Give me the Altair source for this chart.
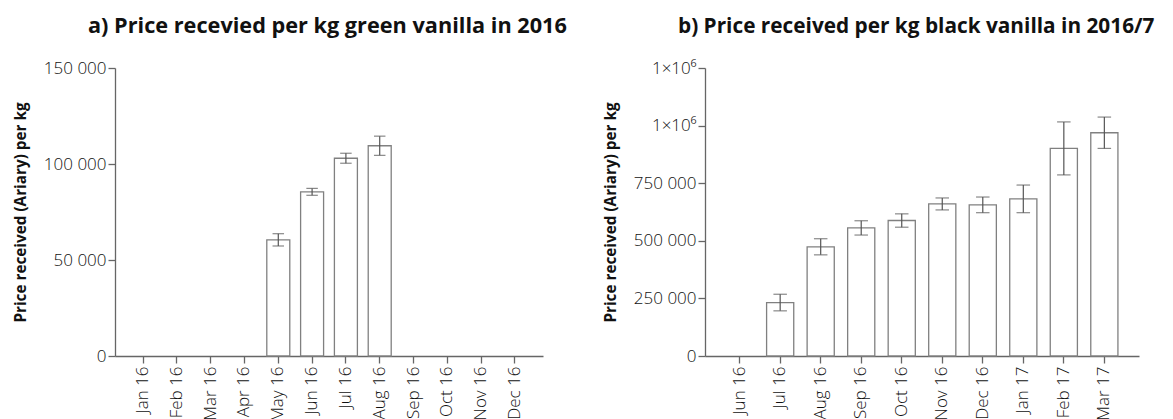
import altair as alt
import pandas as pd

months_a = ["Jan 16", "Feb 16", "Mar 16", "Apr 16", "May 16", "Jun 16",
            "Jul 16", "Aug 16", "Sep 16", "Oct 16", "Nov 16", "Dec 16"]
price_a = [None, None, None, None, 60500, 85500, 103000, 109500, None, None, None, None]
err_a = [None, None, None, None, 3200, 1800, 2600, 5000, None, None, None, None]

months_b = ["Jun 16", "Jul 16", "Aug 16", "Sep 16", "Oct 16", "Nov 16",
            "Dec 16", "Jan 17", "Feb 17", "Mar 17"]
price_b = [None, 232000, 474000, 556000, 588000, 660000, 656000, 682000, 901000, 969000]
err_b = [None, 36000, 35000, 31000, 29000, 26000, 34000, 60000, 115000, 68000]

ticks_a = [0, 50000, 100000, 150000]
ticks_b = [0, 250000, 500000, 750000, 1000000, 1250000]

title_a = "a) Price recevied per kg green vanilla in 2016"
title_b = "b) Price received per kg black vanilla in 2016/7"
ytitle = "Price received (Ariary) per kg"

label_expr_a = "datum.value == 0 ? '0' : format(datum.value / 1000, 'd') + ' 000'"
label_expr_b = ("datum.value >= 1000000 ? '1×10⁶' : (datum.value == 0 ? '0' : "
                "format(datum.value / 1000, 'd') + ' 000')")

FONT = "Open Sans"


def panel(months, price, err, ticks, label_expr, title, width, pin, pout, cap, tsize):
    rows = [dict(month=m, price=p, lo=p - e, hi=p + e)
            for m, p, e in zip(months, price, err) if p is not None]
    df = pd.DataFrame(rows)
    xscale = alt.Scale(domain=months, paddingInner=pin, paddingOuter=pout)
    yscale = alt.Scale(domain=[ticks[0], ticks[-1]], nice=False)
    x = alt.X("month:N", scale=xscale, sort=months,
              axis=alt.Axis(title=None, labelAngle=-90, labelAlign="right",
                            labelBaseline="middle", labelPadding=3))
    yaxis = alt.Axis(title=ytitle, values=ticks, labelExpr=label_expr,
                     labelPadding=2, titlePadding=15)
    base = alt.Chart(df)
    bars = base.mark_bar(fill="white", stroke="#808080", strokeWidth=1.3).encode(
        x=x, y=alt.Y("price:Q", scale=yscale, axis=yaxis))
    rule = base.mark_rule(color="#555555", strokeWidth=1.2).encode(
        x=x, y=alt.Y("lo:Q", scale=yscale, axis=yaxis), y2="hi:Q")
    cap_lo = base.mark_tick(color="#555555", size=cap, thickness=1.2,
                            orient="horizontal").encode(
        x=x, y=alt.Y("lo:Q", scale=yscale, axis=yaxis))
    cap_hi = base.mark_tick(color="#555555", size=cap, thickness=1.2,
                            orient="horizontal").encode(
        x=x, y=alt.Y("hi:Q", scale=yscale, axis=yaxis))
    return alt.layer(bars, rule, cap_lo, cap_hi).properties(
        width=width, height=288,
        title=alt.TitleParams(title, anchor="start", frame="group", dx=-27,
                              fontSize=tsize, font=FONT, fontWeight="bold",
                              color="#111111", offset=21))


pa = panel(months_a, price_a, err_a, ticks_a, label_expr_a, title_a, 428, 0.32, 0.49, 11.5, 21.7)
pb = panel(months_b, price_b, err_b, ticks_b, label_expr_b, title_b, 434, 0.33, 0.52, 13.5, 20.8)

chart = alt.hconcat(pa, pb, spacing=36).properties(
    padding={"left": 5, "top": 8, "right": 0, "bottom": 0}
).configure_view(stroke=None).configure_axis(
    grid=False, domainColor="#666666", tickColor="#666666", domainWidth=1.3,
    tickWidth=1.3, tickSize=7, labelColor="#111111", labelFont=FONT,
    labelFontSize=17, labelFontWeight=300, titleFont=FONT, titleFontSize=15.3,
    titleFontWeight="bold", titleColor="#111111"
)

chart.save("out.html", embed_options={"renderer": "svg", "actions": False})
